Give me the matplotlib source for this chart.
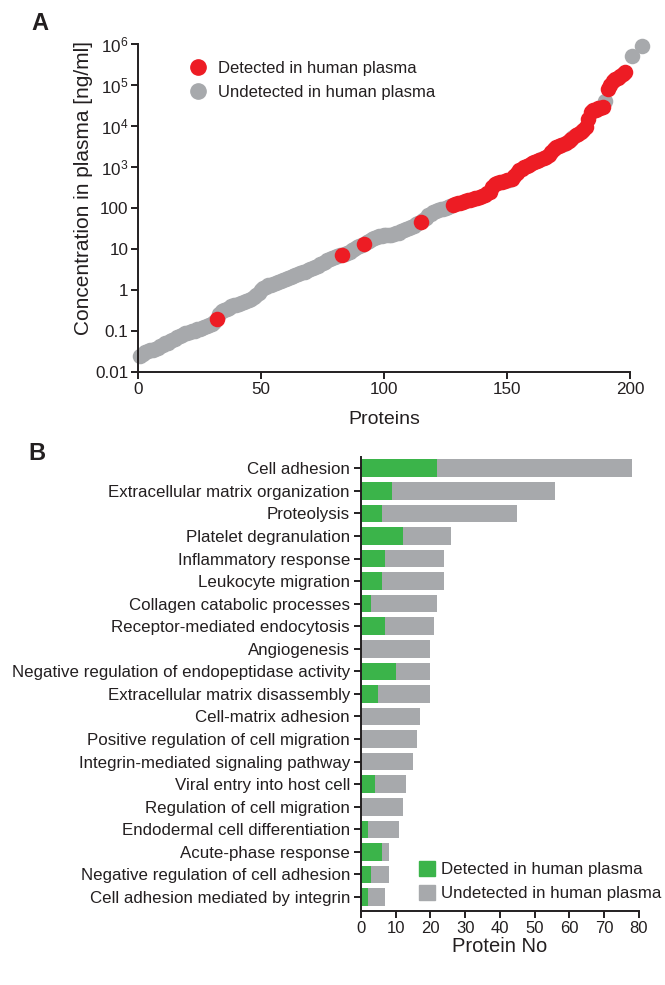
import numpy as np
import matplotlib
matplotlib.use("Agg")
import matplotlib.pyplot as plt
from matplotlib.lines import Line2D
from matplotlib.patches import Patch

# ---------------- Panel A data ----------------
concentration = [
    0.025, 0.028, 0.030, 0.032, 0.034, 0.035, 0.036, 0.038, 0.042, 0.046,
    0.050, 0.052, 0.056, 0.060, 0.064, 0.070, 0.075, 0.080, 0.088, 0.090,
    0.095, 0.098, 0.10, 0.11, 0.115, 0.12, 0.125, 0.13, 0.14, 0.15,
    0.17, 0.20, 0.26, 0.30, 0.33, 0.35, 0.37, 0.40, 0.42, 0.44,
    0.45, 0.48, 0.51, 0.54, 0.57, 0.62, 0.68, 0.75, 0.85, 1.0,
    1.1, 1.2, 1.3, 1.35, 1.4, 1.5, 1.6, 1.7, 1.8, 1.9,
    2.0, 2.1, 2.2, 2.3, 2.45, 2.6, 2.7, 2.8, 3.0, 3.2,
    3.4, 3.7, 3.9, 4.2, 4.5, 4.9, 5.4, 5.8, 6.2, 6.5,
    6.8, 7.0, 7.0, 7.5, 8.0, 8.5, 9.2, 10.0, 11.0, 12.0,
    12.5, 13.0, 14.5, 16.0, 17.5, 19.0, 20.0, 20.5, 21.0, 21.5,
    22.0, 22.0, 22.5, 23.0, 24.0, 25.0, 27.0, 29.0, 31.0, 33.0,
    35.0, 37.0, 40.0, 43.0, 46.0, 52.0, 58.0, 66.0, 72.0, 78.0,
    85.0, 89.0, 93.0, 97.0, 100.0, 105.0, 110.0, 118.0, 125.0, 130.0,
    135, 142, 150, 155, 160, 168, 172, 180, 186, 198,
    210, 230, 246, 320, 390, 405, 420, 440, 455, 470,
    475, 520, 600, 720, 835, 900, 1000, 1080, 1150, 1240,
    1320, 1380, 1450, 1550, 1650, 1740, 2000, 2300, 2700, 3080,
    3250, 3400, 3650, 3900, 4300, 4800, 5300, 5900, 6500, 7000,
    8000, 9400, 15000, 22000, 24000, 25000, 27000, 28000, 29000, 40000,
    79000, 100000, 126000, 138000, 150000, 170000, 190000, 210000,
    510000, 910000,
]
protein_rank = list(range(1, 199)) + [201, 205]
detected_idx = [31, 82, 91, 114] + [i for i in range(127, 198)
                                    if i not in (150, 163, 172, 176, 189)]

# ---------------- Panel B data ----------------
processes = [
    "Cell adhesion",
    "Extracellular matrix organization",
    "Proteolysis",
    "Platelet degranulation",
    "Inflammatory response",
    "Leukocyte migration",
    "Collagen catabolic processes",
    "Receptor-mediated endocytosis",
    "Angiogenesis",
    "Negative regulation of endopeptidase activity",
    "Extracellular matrix disassembly",
    "Cell-matrix adhesion",
    "Positive regulation of cell migration",
    "Integrin-mediated signaling pathway",
    "Viral entry into host cell",
    "Regulation of cell migration",
    "Endodermal cell differentiation",
    "Acute-phase response",
    "Negative regulation of cell adhesion",
    "Cell adhesion mediated by integrin",
]
detected_counts = [22, 9, 6, 12, 7, 6, 3, 7, 0, 10, 5, 0, 0, 0, 4, 0, 2, 6, 3, 2]
total_counts = [78, 56, 45, 26, 24, 24, 22, 21, 20, 20, 20, 17, 16, 15, 13, 12, 11, 8, 8, 7]

RED = "#ED1C24"
GRAY = "#A7A9AC"
GREEN = "#3BB44A"
TXT = "#231F20"

plt.rcParams["font.family"] = ["Liberation Sans", "DejaVu Sans"]
plt.rcParams["mathtext.fontset"] = "custom"
plt.rcParams["mathtext.rm"] = "Liberation Sans"
plt.rcParams["text.color"] = TXT
plt.rcParams["axes.labelcolor"] = TXT
plt.rcParams["xtick.color"] = TXT
plt.rcParams["ytick.color"] = TXT

W, H = 665, 985
fig = plt.figure(figsize=(W / 100, H / 100), dpi=100)

# ---------------- Panel A ----------------
axA = fig.add_axes([138 / W, 1 - 372 / H, 492 / W, 328 / H])
conc = np.array(concentration)
rank = np.array(protein_rank)
det = np.zeros(len(conc), dtype=bool)
det[detected_idx] = True

axA.scatter(rank[~det], conc[~det], s=125, color=GRAY, linewidths=0,
            clip_on=False, zorder=2)
axA.scatter(rank[det], conc[det], s=125, color=RED, linewidths=0,
            clip_on=False, zorder=3)
axA.set_yscale("log")
axA.set_xlim(0, 200)
axA.set_ylim(0.01, 1e6)
axA.set_xticks([0, 50, 100, 150, 200])
yt = [0.01, 0.1, 1, 10, 100, 1e3, 1e4, 1e5, 1e6]
axA.set_yticks(yt)
axA.set_yticklabels(["0.01", "0.1", "1", "10", "100",
                     r"$\mathregular{10^3}$", r"$\mathregular{10^4}$",
                     r"$\mathregular{10^5}$", r"$\mathregular{10^6}$"])
axA.yaxis.set_minor_locator(matplotlib.ticker.NullLocator())
for s in ("top", "right"):
    axA.spines[s].set_visible(False)
for s in ("left", "bottom"):
    axA.spines[s].set_linewidth(1.4)
    axA.spines[s].set_color(TXT)
axA.tick_params(direction="out", length=5, width=1.4, labelsize=12.3, pad=2)
axA.set_xlabel("Proteins", fontsize=14, labelpad=10)
axA.set_ylabel("Concentration in plasma [ng/ml]", fontsize=15)
axA.yaxis.set_label_coords(-0.092, 0.56)

legA = fig.legend(
    handles=[Line2D([], [], marker="o", ls="", color=RED, markersize=11),
             Line2D([], [], marker="o", ls="", color=GRAY, markersize=11)],
    labels=["Detected in human plasma", "Undetected in human plasma"],
    loc="upper left", bbox_to_anchor=(190 / W, 1 - 61 / H),
    bbox_transform=fig.transFigure, frameon=False, fontsize=12,
    handlelength=1.0, handletextpad=0.7, labelspacing=0.55,
    borderpad=0, borderaxespad=0)

fig.text(40 / W, 1 - 23 / H, "A", fontsize=17, fontweight="bold",
         ha="center", va="center")

# ---------------- Panel B ----------------
axB = fig.add_axes([361 / W, 1 - 911 / H, 277.6 / W, 454 / H])
ypos = np.arange(len(processes))
undetected = [t - d for t, d in zip(total_counts, detected_counts)]
axB.barh(ypos, detected_counts, height=0.78, color=GREEN, linewidth=0)
axB.barh(ypos, undetected, left=detected_counts, height=0.78, color=GRAY,
         linewidth=0)
axB.set_ylim(19.62, -0.5)
axB.set_xlim(0, 80)
axB.set_xticks(np.arange(0, 81, 10))
axB.set_yticks(ypos)
axB.set_yticklabels(processes)
for s in ("top", "right"):
    axB.spines[s].set_visible(False)
for s in ("left", "bottom"):
    axB.spines[s].set_linewidth(1.4)
    axB.spines[s].set_color(TXT)
axB.tick_params(axis="y", direction="out", length=5, width=1.4,
                labelsize=12.2, pad=3)
axB.tick_params(axis="x", direction="out", length=5, width=1.4,
                labelsize=12, pad=2)
axB.set_xlabel("Protein No", fontsize=14.5, labelpad=1)

legB = axB.legend(
    handles=[Patch(color=GREEN), Patch(color=GRAY)],
    labels=["Detected in human plasma", "Undetected in human plasma"],
    loc="upper left", bbox_to_anchor=(419 / W, 1 - 861 / H),
    bbox_transform=fig.transFigure, frameon=False, fontsize=12.2,
    handlelength=0.92, handleheight=1.0, handletextpad=0.35,
    labelspacing=0.45, borderpad=0, borderaxespad=0)

fig.text(37 / W, 1 - 453 / H, "B", fontsize=17, fontweight="bold",
         ha="center", va="center")

fig.savefig("out.png", dpi=100)
